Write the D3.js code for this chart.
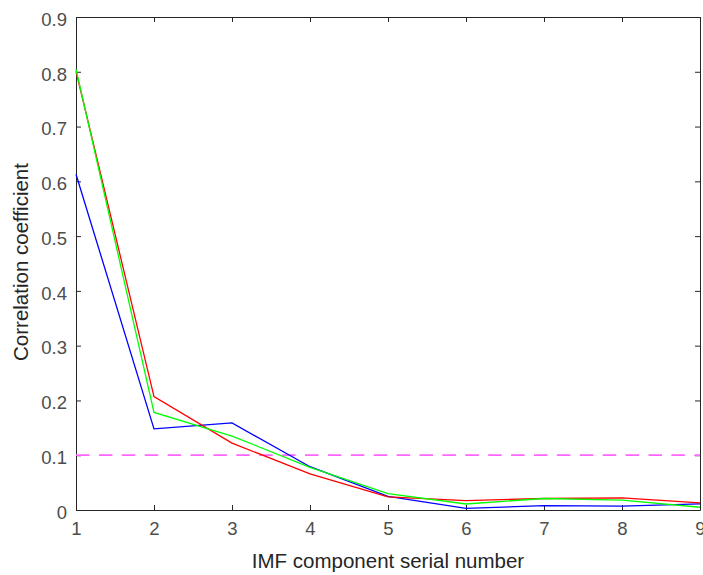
<!DOCTYPE html>
<html>
<head>
<meta charset="utf-8">
<script src="https://cdn.jsdelivr.net/npm/d3@7"></script>
<style>
    body { margin: 0; background: #fff; }
    text { font-family: "Liberation Sans", Arial, sans-serif; }
</style>
</head>
<body>
<div id="chart"></div>
<script>
// IMF component index
const imfIndex = [1, 2, 3, 4, 5, 6, 7, 8, 9];
// correlation coefficients per series
const redSeries = [0.801, 0.207, 0.122, 0.066, 0.024, 0.017, 0.021, 0.022, 0.013];
const greenSeries = [0.805, 0.178, 0.135, 0.078, 0.030, 0.011, 0.021, 0.018, 0.005];
const blueSeries = [0.613, 0.148, 0.159, 0.079, 0.025, 0.003, 0.008, 0.007, 0.011];
const threshold = 0.1;
const yTicks = [0, 0.1, 0.2, 0.3, 0.4, 0.5, 0.6, 0.7, 0.8, 0.9];

const width = 703, height = 575;
const margin = { top: 17, right: 3, bottom: 65, left: 76 };
const axisColor = "#262626";
const tickColor = "#4d4d4d";

const svg = d3.select("#chart").append("svg")
    .attr("width", width)
    .attr("height", height);

const x = d3.scaleLinear().domain([1, 9]).range([margin.left, width - margin.right]);
const y = d3.scaleLinear().domain([0, 0.9]).range([height - margin.bottom, margin.top]);

// box + ticks (ticks pointing inward)
function styleAxis(g) {
    g.select(".domain").attr("stroke", axisColor);
    g.selectAll(".tick line").attr("stroke", axisColor);
    g.selectAll(".tick text").attr("fill", tickColor).style("font-size", "18.5px");
}

svg.append("g")
    .attr("transform", `translate(0,${y(0)})`)
    .call(d3.axisBottom(x).tickValues(imfIndex).tickFormat(d3.format("d")).tickSizeInner(-5).tickSizeOuter(0).tickPadding(12))
    .call(styleAxis);

svg.append("g")
    .attr("transform", `translate(0,${y(0.9)})`)
    .call(d3.axisTop(x).tickValues(imfIndex).tickFormat("").tickSizeInner(-5).tickSizeOuter(0))
    .call(styleAxis);

svg.append("g")
    .attr("transform", `translate(${x(1)},0)`)
    .call(d3.axisLeft(y).tickValues(yTicks).tickFormat(d3.format(".1f")).tickSizeInner(-5).tickSizeOuter(0).tickPadding(9))
    .call(styleAxis)
    .selectAll(".tick text").attr("dy", "0.45em");

svg.append("g")
    .attr("transform", `translate(${x(9)},0)`)
    .call(d3.axisRight(y).tickValues(yTicks).tickFormat("").tickSizeInner(-5).tickSizeOuter(0))
    .call(styleAxis);

svg.selectAll(".tick text").filter(function () { return this.textContent === "0.0"; }).text("0");

// threshold line
svg.append("line")
    .attr("x1", x(1)).attr("x2", x(9))
    .attr("y1", y(threshold)).attr("y2", y(threshold))
    .attr("stroke", "#ff66ff")
    .attr("stroke-width", 1.7)
    .attr("stroke-dasharray", "13.5,9.4");

const line = d3.line()
    .x((d, i) => x(imfIndex[i]))
    .y(d => y(d));

const series = [
    { values: blueSeries, color: "#0000ff" },
    { values: redSeries, color: "#ff0000" },
    { values: greenSeries, color: "#00ff00" }
];

svg.selectAll(".series")
    .data(series)
    .enter()
    .append("path")
    .attr("class", "series")
    .attr("d", d => line(d.values))
    .attr("fill", "none")
    .attr("stroke", d => d.color)
    .attr("stroke-width", 1.3);

svg.append("text")
    .attr("x", 388)
    .attr("y", 568)
    .attr("text-anchor", "middle")
    .attr("fill", axisColor)
    .style("font-size", "20.5px")
    .text("IMF component serial number");

svg.append("text")
    .attr("transform", `translate(28,262) rotate(-90)`)
    .attr("text-anchor", "middle")
    .attr("fill", axisColor)
    .style("font-size", "20.5px")
    .text("Correlation coefficient");
</script>
</body>
</html>
